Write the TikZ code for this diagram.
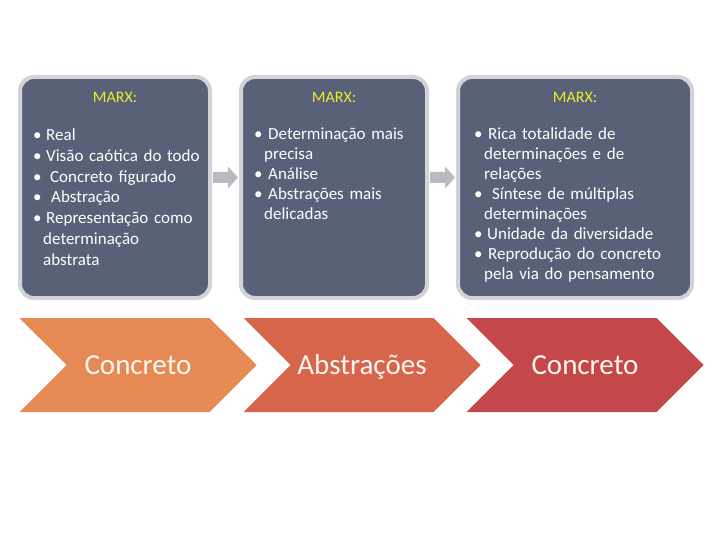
\documentclass[tikz,border=0pt]{standalone}
\usepackage{fontspec}
\setmainfont{Carlito}
\usetikzlibrary{positioning,calc,shapes.symbols}
\definecolor{slate}{RGB}{89,97,120}
\definecolor{rim}{RGB}{210,211,216}
\definecolor{marxyellow}{RGB}{238,238,40}
\definecolor{gapgray}{RGB}{184,186,192}
\definecolor{chevA}{RGB}{229,138,85}
\definecolor{chevB}{RGB}{214,101,76}
\definecolor{chevC}{RGB}{196,71,74}
% one bullet line, later lines hang under the text
\newcommand{\bitem}[1]{\par\hangindent=10pt\hangafter=1\noindent\makebox[13pt][l]{•}#1}
\begin{document}
\begin{tikzpicture}[x=1pt,y=-1pt,
    panel/.style={draw=rim,fill=slate,line width=4pt,rounded corners=14pt,minimum height=221pt,inner sep=0pt},
    title/.style={text=marxyellow,font=\fontsize{16}{19}\selectfont,inner sep=0pt},
    body/.style={text=white,font=\fontsize{17}{20}\selectfont,anchor=north west,inner sep=0pt,text width=230pt},
    chevron/.style={signal,signal from=west,signal to=east,signal pointer angle=90,minimum width=237pt,minimum height=94pt,inner sep=0pt,text height=19pt,text depth=0pt,text={white!94!orange},font=\fontsize{29}{34}\selectfont}]
\useasboundingbox (0,0) rectangle (720,540);
% upper panels
\node[panel,minimum width=190pt] (box1) at (115,187.5) {};
\node[panel,minimum width=186pt] (box2) at (334,187.5) {};
\node[panel,minimum width=234pt] (box3) at (575,187.5) {};
\node[title] (marx1) at ([yshift=-22pt]box1.north) {MARX:};
\node[title] (marx2) at ([yshift=-22pt]box2.north) {MARX:};
\node[title] (marx3) at ([yshift=-22pt]box3.north) {MARX:};
\node[body,font=\fontsize{17}{20.7}\selectfont] (txt1) at ([xshift=15pt,yshift=-45pt]box1.north west) {\raggedright
  \bitem{Real}
  \bitem{Visão caótica do todo}
  \bitem{\hspace{4pt}Concreto figurado}
  \bitem{\hspace{5pt}Abstração}
  \bitem{Representação como\newline determinação\newline abstrata}\par};
\node[body] (txt2) at ([xshift=15pt,yshift=-44pt]box2.north west) {\raggedright
  \bitem{\hspace{1pt}Determinação mais\newline precisa}
  \bitem{\hspace{1pt}Análise}
  \bitem{\hspace{1pt}Abstrações mais\newline delicadas}\par};
\node[body] (txt3) at ([xshift=18pt,yshift=-44pt]box3.north west) {\raggedright
  \bitem{\hspace{1pt}Rica totalidade de\newline determinações e de\newline relações}
  \bitem{\hspace{5pt}Síntese de múltiplas\newline determinações}
  \bitem{Unidade da diversidade}
  \bitem{\hspace{1pt}Reprodução do concreto\newline pela via do pensamento}\par};
% small gray arrows between the panels
\coordinate (g1) at ($(box1.east)!.5!(box2.west)+(0,-10)$);
\coordinate (g2) at ($(box2.east)!.5!(box3.west)+(0,-10)$);
\foreach \g in {g1,g2}
  \fill[gapgray] (\g) ++(-12.5,-5.5) -- ++(15,0) -- ++(0,-5.5) -- ++(10,11)
    -- ++(-10,11) -- ++(0,-5.5) -- ++(-15,0) -- cycle;
% lower chevrons
\node[chevron,fill=chevA] (conc1) at (138,365) {Concreto};
\node[chevron,fill=chevB] (abst) at (362,365) {Abstrações};
\node[chevron,fill=chevC] (conc2) at (585,365) {Concreto};
\end{tikzpicture}
\end{document}
